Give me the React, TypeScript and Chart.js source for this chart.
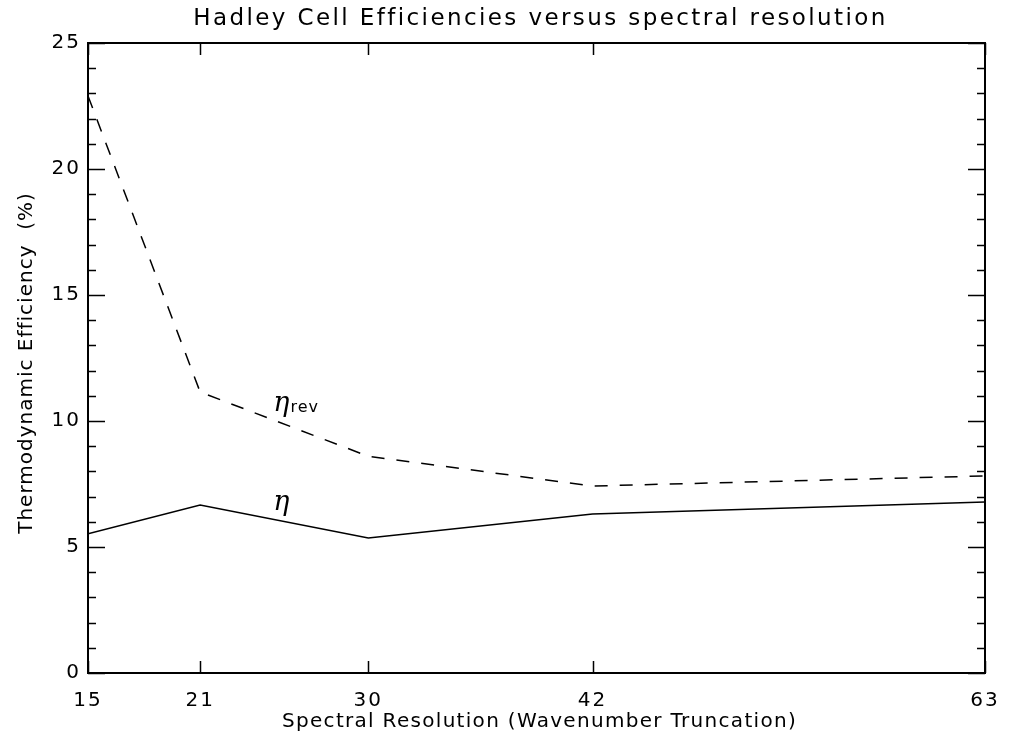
import React, { useEffect, useRef } from 'react';
import { Chart, registerables } from 'chart.js';

Chart.register(...registerables);

// ---- data ----
const resolutions = [15, 21, 30, 42, 63];
const etaRevValues = [22.9, 11.15, 8.6, 7.42, 7.82];
const etaValues = [5.52, 6.67, 5.36, 6.31, 6.79];
const xTickValues = [15, 21, 30, 42, 63];
const yMajorStep = 5;
const yMinorStep = 1;
const yMin = 0;
const yMax = 25;

const chartTitle = 'Hadley Cell Efficiencies versus spectral resolution';
const xAxisTitle = 'Spectral Resolution (Wavenumber Truncation)';
const yAxisTitle = 'Thermodynamic Efficiency  (%)';

const curveLabels = [
  { x: 25.4, y: 10.4, text: 'η', sub: 'rev' },
  { x: 25.4, y: 6.45, text: 'η', sub: '' },
];

const FONT = '"DejaVu Sans", sans-serif';

const spacingPlugin = {
  id: 'spacing',
  beforeDraw(chart: any) {
    chart.ctx.letterSpacing = '2px';
  },
};

const framePlugin = {
  id: 'idlFrame',
  afterDatasetsDraw(chart: any) {
    const { ctx, chartArea: a, scales } = chart;
    const xs = scales.x;
    const ys = scales.y;
    ctx.save();
    ctx.strokeStyle = '#000';
    ctx.lineWidth = 2;
    ctx.strokeRect(a.left, a.top, a.right - a.left, a.bottom - a.top);
    ctx.lineWidth = 1.5;
    ctx.beginPath();
    for (const v of xTickValues) {
      const px = Math.round(xs.getPixelForValue(v)) + 0.5;
      ctx.moveTo(px, a.bottom);
      ctx.lineTo(px, a.bottom - 12);
      ctx.moveTo(px, a.top);
      ctx.lineTo(px, a.top + 12);
    }
    for (let v = yMin; v <= yMax; v += yMinorStep) {
      const py = Math.round(ys.getPixelForValue(v)) + 0.5;
      const len = v % yMajorStep === 0 ? 17 : 8;
      ctx.moveTo(a.left, py);
      ctx.lineTo(a.left + len, py);
      ctx.moveTo(a.right, py);
      ctx.lineTo(a.right - len, py);
    }
    ctx.stroke();

    // curve labels
    ctx.fillStyle = '#000';
    ctx.letterSpacing = '0px';
    for (const lab of curveLabels) {
      const px = xs.getPixelForValue(lab.x);
      const py = ys.getPixelForValue(lab.y);
      ctx.font = 'italic 27px "DejaVu Serif", serif';
      ctx.textAlign = 'left';
      ctx.textBaseline = 'alphabetic';
      ctx.fillText(lab.text, px - 9, py);
      const w = ctx.measureText(lab.text).width;
      if (lab.sub) {
        ctx.font = '16px ' + FONT;
        ctx.letterSpacing = '1px';
        ctx.fillText(lab.sub, px - 9 + w + 1, py + 1);
        ctx.letterSpacing = '0px';
      }
    }

    // titles
    ctx.textAlign = 'center';
    ctx.textBaseline = 'middle';
    const cx = (a.left + a.right) / 2;
    ctx.font = '23px ' + FONT;
    ctx.letterSpacing = '2.4px';
    ctx.fillText(chartTitle, cx + 4, 19);
    ctx.font = '20px ' + FONT;
    ctx.letterSpacing = '1.3px';
    ctx.fillText(xAxisTitle, cx + 3, 722);
    ctx.save();
    ctx.letterSpacing = '1px';
    ctx.translate(27, (a.top + a.bottom) / 2 + 5);
    ctx.rotate(-Math.PI / 2);
    ctx.fillText(yAxisTitle, 0, 0);
    ctx.restore();
    ctx.restore();
  },
};

export default function App() {
  const canvasRef = useRef<HTMLCanvasElement | null>(null);

  useEffect(() => {
    if (!canvasRef.current) return;
    const chart = new Chart(canvasRef.current, {
      type: 'line',
      data: {
        datasets: [
          {
            label: 'eta_rev',
            data: resolutions.map((r, i) => ({ x: r, y: etaRevValues[i] })),
            borderColor: '#000',
            borderWidth: 1.5,
            borderDash: [13, 12],
            pointRadius: 0,
            fill: false,
            tension: 0,
          },
          {
            label: 'eta',
            data: resolutions.map((r, i) => ({ x: r, y: etaValues[i] })),
            borderColor: '#000',
            borderWidth: 1.5,
            pointRadius: 0,
            fill: false,
            tension: 0,
          },
        ],
      },
      options: {
        animation: false,
        responsive: false,
        events: [],
        layout: { padding: { top: 43, right: 31, left: 0, bottom: 0 } },
        plugins: {
          legend: { display: false },
          title: { display: false },
          tooltip: { enabled: false },
        },
        scales: {
          x: {
            type: 'linear',
            min: 15,
            max: 63,
            grid: { display: false, drawTicks: false },
            border: { display: false },
            afterBuildTicks: (s: any) => {
              s.ticks = xTickValues.map((v) => ({ value: v }));
            },
            afterFit: (s: any) => {
              s.height = 70;
            },
            ticks: {
              autoSkip: false,
              maxRotation: 0,
              padding: 16,
              color: '#000',
              font: { family: FONT, size: 20 },
            },
          },
          y: {
            type: 'linear',
            min: yMin,
            max: yMax,
            grid: { display: false, drawTicks: false },
            border: { display: false },
            afterFit: (s: any) => {
              s.width = 88;
            },
            ticks: {
              stepSize: yMajorStep,
              padding: 7,
              color: '#000',
              font: { family: FONT, size: 20 },
            },
          },
        },
      },
      plugins: [spacingPlugin, framePlugin],
    } as any);
    return () => chart.destroy();
  }, []);

  return (
    <div style={{ position: 'absolute', left: 0, top: 0, width: 1016, height: 743, background: '#fff' }}>
      <canvas ref={canvasRef} width={1016} height={743} style={{ width: 1016, height: 743, display: 'block' }} />
    </div>
  );
}
